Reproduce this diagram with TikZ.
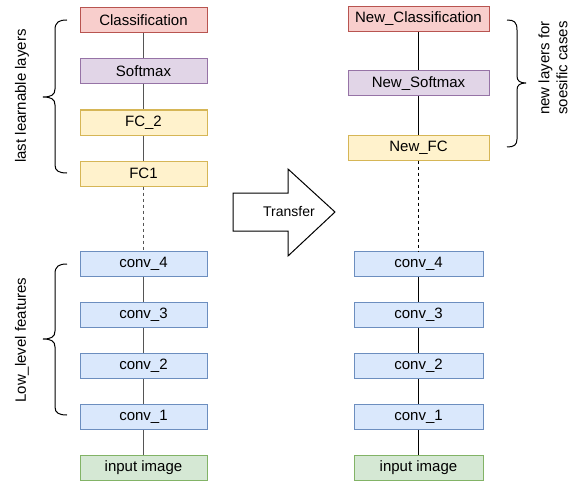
\documentclass[tikz,border=0pt]{standalone}
\usepackage{fontspec}
\setmainfont{Liberation Sans}
\definecolor{redF}{HTML}{F8CECC}\definecolor{redD}{HTML}{B85450}
\definecolor{purF}{HTML}{E1D5E7}\definecolor{purD}{HTML}{9673A6}
\definecolor{yelF}{HTML}{FFF2CC}\definecolor{yelD}{HTML}{D6B656}
\definecolor{bluF}{HTML}{DAE8FC}\definecolor{bluD}{HTML}{6C8EBF}
\definecolor{grnF}{HTML}{D5E8D4}\definecolor{grnD}{HTML}{82B366}
\definecolor{lineG}{HTML}{555555}
\begin{document}
\begin{tikzpicture}[x=1pt,y=-1pt,
  layer/.style={draw, line width=1pt, rectangle, inner sep=0pt, minimum height=25pt,
    font=\fontsize{15}{18}\selectfont},
  lw/.style={layer, minimum width=127pt},
  rw/.style={layer, minimum width=141pt},
  rwc/.style={layer, minimum width=129pt},
  redbox/.style={fill=redF, draw=redD},
  purbox/.style={fill=purF, draw=purD},
  yelbox/.style={fill=yelF, draw=yelD},
  blubox/.style={fill=bluF, draw=bluD},
  grnbox/.style={fill=grnF, draw=grnD},
  conL/.style={draw=lineG, line width=1pt},
  conR/.style={draw=black, line width=1pt},
  dashL/.style={conL, dash pattern=on 3pt off 3pt},
  dashR/.style={conR, dash pattern=on 3pt off 3pt},
  brace/.style={draw=black, line width=1pt},
  side/.style={font=\fontsize{15}{18}\selectfont, rotate=90, align=center}
]
\useasboundingbox (0,0) rectangle (572,484);
% left column
\node[lw, redbox] (cls) at (143.5,20.5) {Classification};
\node[lw, purbox] (sm) at (143.5,71) {Softmax};
\node[lw, yelbox] (fc2) at (143.5,122.5) {FC\_2};
\node[lw, yelbox] (fc1) at (143.5,173.5) {FC1};
\node[lw, blubox] (c4) at (143.5,263.5) {conv\_4};
\node[lw, blubox] (c3) at (143.5,315) {conv\_3};
\node[lw, blubox] (c2) at (143.5,366) {conv\_2};
\node[lw, blubox] (c1) at (143.5,417) {conv\_1};
\node[lw, grnbox] (in) at (143.5,468) {input image};
\draw[conL] (cls) -- (sm); \draw[conL] (sm) -- (fc2); \draw[conL] (fc2) -- (fc1);
\draw[dashL] (fc1) -- (c4);
\draw[conL] (c4) -- (c3); \draw[conL] (c3) -- (c2); \draw[conL] (c2) -- (c1); \draw[conL] (c1) -- (in);
% right column
\node[rw, redbox] (ncls) at (418.5,19) {New\_Classification};
\node[rw, purbox] (nsm) at (418.5,83.5) {New\_Softmax};
\node[rw, yelbox] (nfc) at (418.5,147.5) {New\_FC};
\node[rwc, blubox] (rc4) at (418.5,264) {conv\_4};
\node[rwc, blubox] (rc3) at (418.5,315) {conv\_3};
\node[rwc, blubox] (rc2) at (418.5,366) {conv\_2};
\node[rwc, blubox] (rc1) at (418.5,417) {conv\_1};
\node[rwc, grnbox] (rin) at (418.5,468) {input image};
\draw[conR] (ncls) -- (nsm); \draw[conR] (nsm) -- (nfc);
\draw[dashR] (nfc) -- (rc4);
\draw[conR] (rc4) -- (rc3); \draw[conR] (rc3) -- (rc2); \draw[conR] (rc2) -- (rc1); \draw[conR] (rc1) -- (rin);
% braces
\draw[brace] (67,20) .. controls (59,20) and (55,22) .. (55,30) -- (55,89)
  .. controls (55,95) and (51,97) .. (43,97) .. controls (51,97) and (55,99) .. (55,105)
  -- (55,165) .. controls (55,171) and (59,173) .. (67,173);
\node[side] (lastlbl) at (22,96) {last learnable layers};
\draw[brace] (67,264) .. controls (59,264) and (55,266) .. (55,274) -- (55,331)
  .. controls (55,337) and (51,339) .. (43,339) .. controls (51,339) and (55,341) .. (55,347)
  -- (55,407) .. controls (55,413) and (59,415) .. (67,415);
\node[side] (lowlbl) at (22,340) {Low\_level features};
\draw[brace] (507,20) .. controls (514,20) and (517,22) .. (517,30) -- (517,76)
  .. controls (517,81) and (520,83) .. (526,83) .. controls (520,83) and (517,85) .. (517,90)
  -- (517,139) .. controls (517,145) and (514,147) .. (507,147);
\node[side] (newlbl) at (553,68) {new layers for\\soesific cases};
% transfer arrow
\draw[line width=1pt, fill=white] (233,193) -- (288,193) -- (288,169) -- (335,212)
  -- (288,256) -- (288,231) -- (233,231) -- cycle;
\node[font=\fontsize{14}{17}\selectfont] (tr) at (289,212) {Transfer};
\end{tikzpicture}
\end{document}
